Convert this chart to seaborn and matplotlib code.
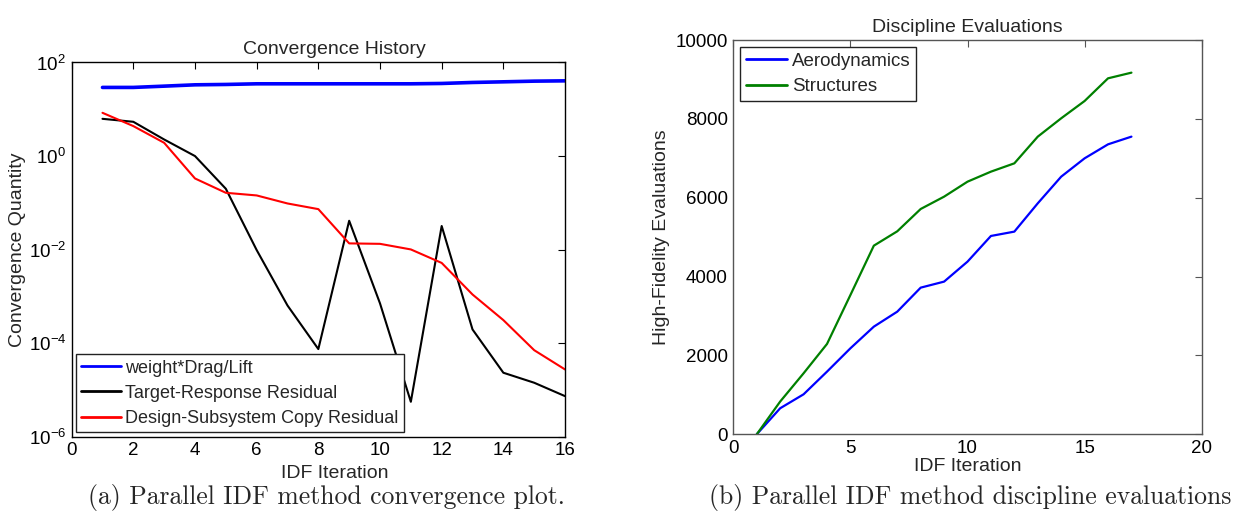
import numpy as np
import pandas as pd
import matplotlib
matplotlib.use("Agg")
import matplotlib.pyplot as plt
import seaborn as sns
from matplotlib.lines import Line2D

# ---- data ----
iter_a = list(range(1, 17))
weight_drag_lift = [29.3, 29.3, 31.2, 33.3, 33.9, 35.0, 35.0, 35.0, 35.0, 35.0, 35.0, 35.6, 37.4, 38.6, 39.9, 40.5]
target_response = [6.25, 5.4, 2.26, 1.0, 0.2, 0.0098, 6.4e-4, 7.5e-5, 0.0414, 7.1e-4, 5.6e-6, 0.032, 1.97e-4, 2.34e-5, 1.43e-5, 7.4e-6]
design_copy = [8.4, 4.37, 1.92, 0.332, 0.164, 0.144, 0.097, 0.0734, 0.0136, 0.0133, 0.0101, 0.0052, 0.0011, 3.12e-4, 7.1e-5, 2.75e-5]

iter_b = list(range(1, 18))
aerodynamics = [0, 660, 1014, 1589, 2181, 2730, 3110, 3719, 3872, 4379, 5030, 5140, 5858, 6534, 6999, 7354, 7549]
structures = [0, 830, 1547, 2291, 3533, 4784, 5148, 5714, 6027, 6407, 6661, 6872, 7549, 8014, 8453, 9028, 9172]

labels_a = ["weight*Drag/Lift", "Target-Response Residual", "Design-Subsystem Copy Residual"]
labels_b = ["Aerodynamics", "Structures"]

sns.set_theme(style="white")
plt.rcParams['font.family'] = ['Liberation Sans', 'DejaVu Sans']
plt.rcParams['mathtext.fontset'] = 'custom'
plt.rcParams['mathtext.rm'] = 'Liberation Sans'
plt.rcParams['mathtext.it'] = 'Liberation Sans'

fig = plt.figure(figsize=(12.57, 5.25), dpi=100)
ax1 = fig.add_axes([0.057, 0.168, 0.3925, 0.713])
ax2 = fig.add_axes([0.5834, 0.1728, 0.3726, 0.751])

fs_tick = 13.5
fs_lab = 14
fs_leg = 13

df_a = pd.DataFrame({"x": iter_a * 3,
                     "y": weight_drag_lift + target_response + design_copy,
                     "s": [labels_a[0]] * 16 + [labels_a[1]] * 16 + [labels_a[2]] * 16})
pal_a = {labels_a[0]: "#0000ff", labels_a[1]: "#000000", labels_a[2]: "#ff0000"}
sns.lineplot(data=df_a, x="x", y="y", hue="s", palette=pal_a, ax=ax1, legend=False)
for ln, lw in zip(ax1.get_lines(), [2.6, 1.5, 1.5]):
    ln.set_linewidth(lw)
ax1.set_yscale("log")
ax1.set_xlim(0, 16)
ax1.set_ylim(1e-6, 1e2)
ax1.set_xticks(range(0, 17, 2))
ax1.set_yticks([1e-6, 1e-4, 1e-2, 1e0, 1e2])
ax1.set_yticklabels([r"$10^{-6}$", r"$10^{-4}$", r"$10^{-2}$", r"$10^{0}$", r"$10^{2}$"])
ax1.yaxis.set_minor_locator(matplotlib.ticker.NullLocator())
ax1.set_title("Convergence History", fontsize=fs_lab, pad=6, x=0.533)
ax1.set_xlabel("IDF Iteration", fontsize=fs_lab, labelpad=1)
ax1.xaxis.set_label_coords(0.533, -0.075)
ax1.set_ylabel("Convergence Quantity", fontsize=fs_lab, labelpad=2)
h1 = [Line2D([], [], color=pal_a[l], lw=2) for l in labels_a]
leg1 = ax1.legend(h1, labels_a, loc="lower left", bbox_to_anchor=(0.008, 0.012), fontsize=fs_leg,
                  frameon=True, fancybox=False, edgecolor="#222222", framealpha=1,
                  handlelength=2.2, handletextpad=0.25, borderpad=0.3, labelspacing=0.45, borderaxespad=0.0)
leg1.get_frame().set_linewidth(1.0)

df_b = pd.DataFrame({"x": iter_b * 2,
                     "y": aerodynamics + structures,
                     "s": [labels_b[0]] * 17 + [labels_b[1]] * 17})
pal_b = {labels_b[0]: "#0000ff", labels_b[1]: "#008000"}
sns.lineplot(data=df_b, x="x", y="y", hue="s", palette=pal_b, ax=ax2, legend=False)
for ln in ax2.get_lines():
    ln.set_linewidth(1.6)
ax2.set_xlim(0, 20)
ax2.set_ylim(0, 10000)
ax2.set_xticks(range(0, 21, 5))
ax2.set_yticks(range(0, 10001, 2000))
ax2.set_title("Discipline Evaluations", fontsize=fs_lab, pad=6)
ax2.set_xlabel("IDF Iteration", fontsize=fs_lab, labelpad=1)
ax2.set_ylabel("High-Fidelity Evaluations", fontsize=fs_lab, labelpad=4)
h2 = [Line2D([], [], color=pal_b[l], lw=2) for l in labels_b]
leg2 = ax2.legend(h2, labels_b, loc="upper left", bbox_to_anchor=(0.015, 0.982), fontsize=fs_leg + 0.5,
                  frameon=True, fancybox=False, edgecolor="#222222", framealpha=1,
                  handlelength=2.2, handletextpad=0.25, borderpad=0.3, labelspacing=0.45, borderaxespad=0.0)
leg2.get_frame().set_linewidth(1.0)

for ax, col in [(ax1, "#000000"), (ax2, "#555555")]:
    for sp in ax.spines.values():
        sp.set_visible(True)
        sp.set_color(col)
        sp.set_linewidth(1.0)
    ax.tick_params(axis="both", which="both", direction="in", top=True, right=True,
                   length=5, width=0.8, color=col, labelsize=fs_tick, labelcolor="black", pad=4)

fig.text(326 / 1257, 0.053, "(a) Parallel IDF method convergence plot.", ha="center", va="center",
         fontsize=18.5, family="cmr10")
fig.text(970 / 1257, 0.053, "(b) Parallel IDF method discipline evaluations", ha="center", va="center",
         fontsize=18.5, family="cmr10")

fig.savefig("out.png", dpi=100, facecolor="white")
